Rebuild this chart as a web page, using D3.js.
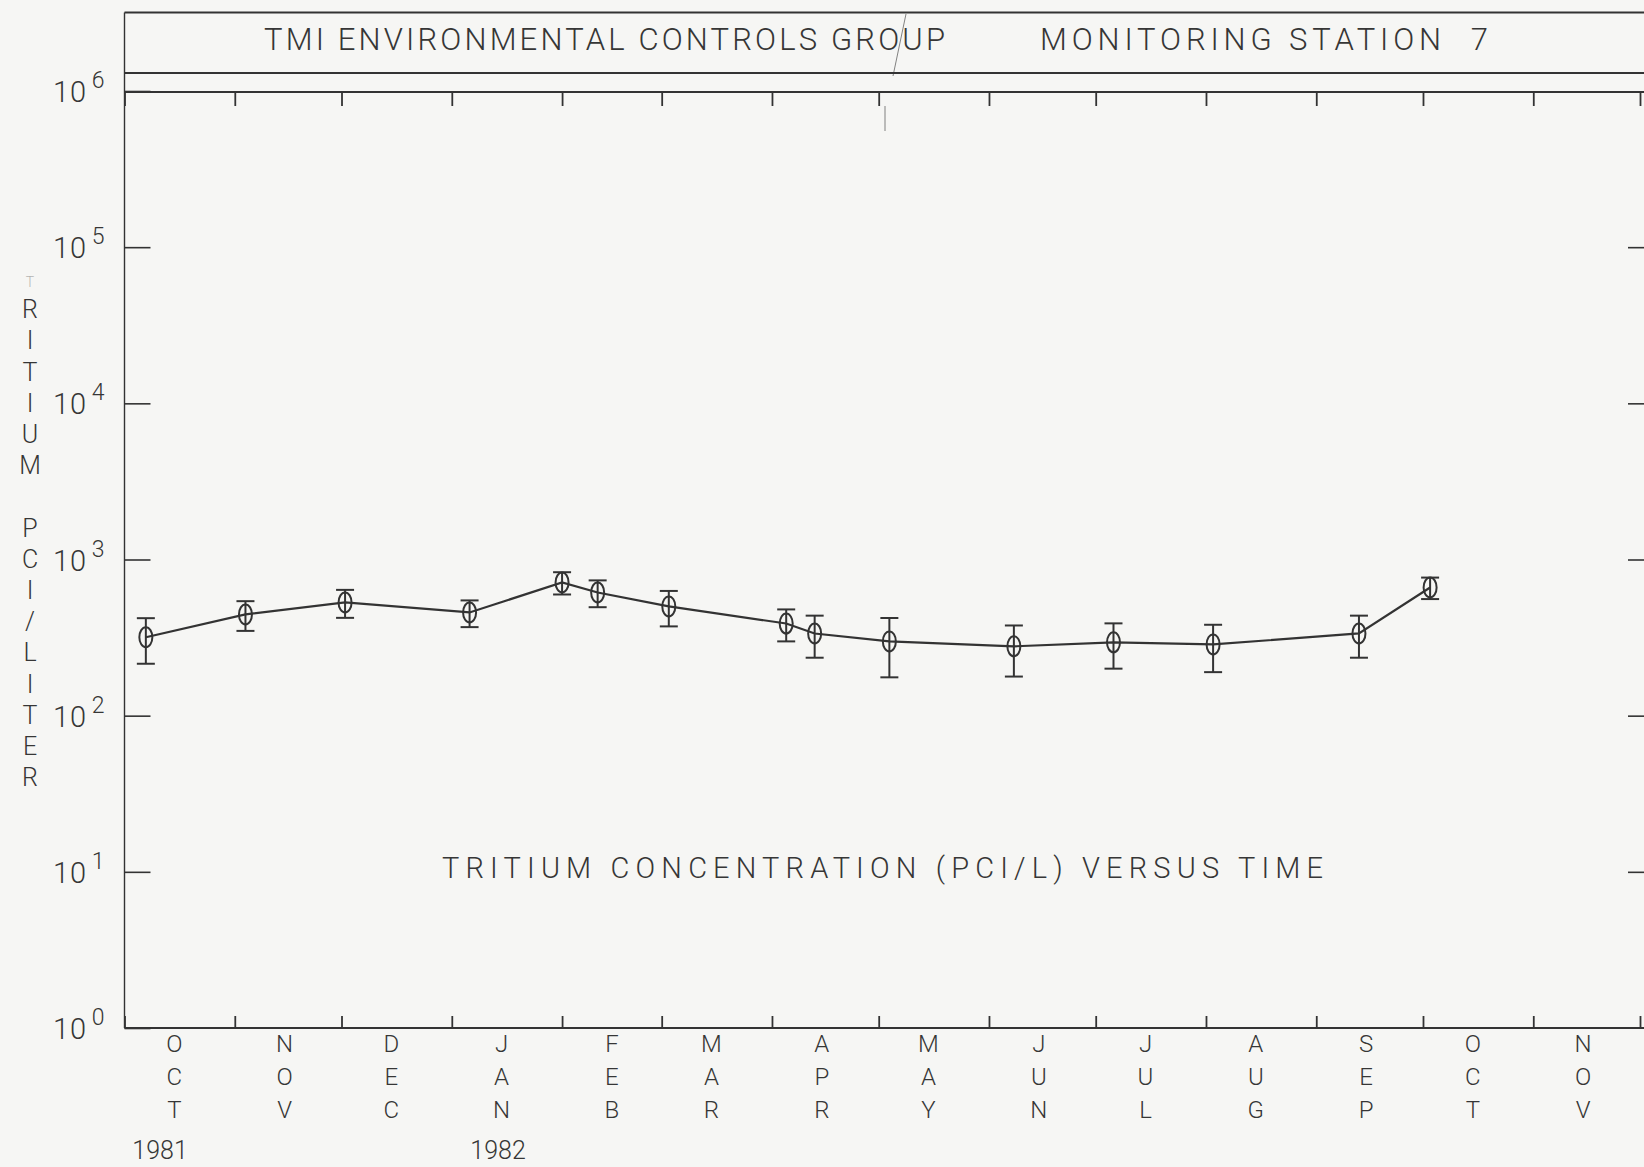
<!DOCTYPE html>
<html lang="en">
<head>
<meta charset="UTF-8">
<title>TMI Monitoring Station 7 - Tritium</title>
<style>
  body { margin: 0; background: #f6f6f4; }
  svg { display: block; }
  text { font-family: Roboto, "DejaVu Sans", sans-serif; font-weight: 300; fill: #363636; }
</style>
</head>
<body>
<script src="https://cdn.jsdelivr.net/npm/d3@7"></script>
<script>
// sample dates, tritium (pCi/L) and 1-sigma error
let sampleDates = ["1981-10-07", "1981-11-04", "1981-12-02", "1982-01-06", "1982-02-01",
                   "1982-02-11", "1982-03-03", "1982-04-05", "1982-04-13", "1982-05-04",
                   "1982-06-08", "1982-07-06", "1982-08-03", "1982-09-13", "1982-10-03"];
let tritium = [318, 445, 531, 458, 713, 615, 501, 389, 336, 299, 278, 295, 286, 336, 662];
let sigma = [103, 96, 108, 89, 116, 120, 128, 90, 101, 123, 100, 95, 96, 101, 104];

let monthLabels = ["OCT", "NOV", "DEC", "JAN", "FEB", "MAR", "APR", "MAY", "JUN", "JUL", "AUG", "SEP", "OCT", "NOV"];
let yearLabels = ["1981", "1982"];
let yearDates = ["1981-10-11", "1982-01-14"];
let decades = [0, 1, 2, 3, 4, 5, 6];
let yTitle = "TRITIUM PCI/LITER";
let title1 = "TMI ENVIRONMENTAL CONTROLS GROUP";
let title2 = "MONITORING STATION  7";
let subTitle = "TRITIUM CONCENTRATION (PCI/L) VERSUS TIME";

let W = 1644, H = 1167;
let mLeft = 124.5, mRight = 1640, mTop = 91, mBottom = 1028;
let ink = "#333";

let parse = d3.utcParse("%Y-%m-%d");
let data = sampleDates.map((d, i) => ({ date: parse(d), v: tritium[i], s: sigma[i] }));

let x = d3.scaleUtc()
    .domain([parse("1981-10-01"), parse("1982-12-01")])
    .range([mLeft, mRight]);
let y = d3.scaleLog().domain([1, 1e6]).range([mBottom, mTop]);

let svg = d3.select("body").append("svg")
    .attr("width", W)
    .attr("height", H);

// frame: title box and plot borders
let frame = svg.append("g").attr("stroke", ink).attr("fill", "none");
frame.append("line").attr("x1", mLeft).attr("x2", W).attr("y1", 12.5).attr("y2", 12.5).attr("stroke-width", 2.2);
frame.append("line").attr("x1", mLeft).attr("x2", W).attr("y1", 73).attr("y2", 73).attr("stroke-width", 2.2);
frame.append("line").attr("x1", mLeft).attr("x2", W).attr("y1", mTop + 1).attr("y2", mTop + 1).attr("stroke-width", 2.2);
frame.append("line").attr("x1", mLeft).attr("x2", W).attr("y1", mBottom).attr("y2", mBottom).attr("stroke-width", 2);
frame.append("line").attr("x1", mLeft).attr("x2", mLeft).attr("y1", 12.5).attr("y2", mBottom).attr("stroke-width", 1.4);

// scan artefacts
frame.append("line").attr("x1", 906).attr("y1", 14).attr("x2", 893).attr("y2", 76).attr("stroke-width", 1).attr("opacity", 0.6);
frame.append("line").attr("x1", 885).attr("y1", 106).attr("x2", 885).attr("y2", 131).attr("stroke-width", 1).attr("opacity", 0.6);

// month ticks top and bottom
let months = d3.utcMonth.every(1);
let topAxis = svg.append("g")
    .attr("transform", "translate(0," + (mTop + 1) + ")")
    .call(d3.axisBottom(x).ticks(months).tickSize(14).tickSizeOuter(0).tickFormat(""));
let botAxis = svg.append("g")
    .attr("transform", "translate(0," + mBottom + ")")
    .call(d3.axisTop(x).ticks(months).tickSize(12).tickSizeOuter(0).tickFormat(""));
[topAxis, botAxis].forEach(a => {
    a.select(".domain").remove();
    a.selectAll(".tick line").attr("stroke", ink).attr("stroke-width", 1.8);
});

// decade ticks left and right
let leftAxis = svg.append("g")
    .attr("transform", "translate(" + mLeft + ",0)")
    .call(d3.axisRight(y).tickValues(decades.map(d => Math.pow(10, d))).tickSize(26).tickFormat(""));
let rightAxis = svg.append("g")
    .attr("transform", "translate(" + W + ",0)")
    .call(d3.axisLeft(y).tickValues(decades.slice(1, 6).map(d => Math.pow(10, d))).tickSize(16).tickFormat(""));
[leftAxis, rightAxis].forEach(a => {
    a.select(".domain").remove();
    a.selectAll(".tick line").attr("stroke", ink).attr("stroke-width", 1.6);
});

// decade labels 10^n
let ylab = svg.append("g").selectAll("text")
    .data(decades)
    .enter().append("text")
    .attr("x", 53)
    .attr("y", d => y(Math.pow(10, d)) + 11)
    .style("font-size", "29px");
ylab.append("tspan").attr("textLength", 33).text("10");
ylab.append("tspan").attr("dx", 5).attr("dy", -14).style("font-size", "23px").text(d => d);

// vertical axis title, stacked letters
svg.append("g").selectAll("text")
    .data(yTitle.split(""))
    .enter().append("text")
    .attr("x", 30)
    .attr("y", (d, i) => 287 + i * 31.2)
    .attr("text-anchor", "middle")
    .attr("opacity", (d, i) => i === 0 ? 0.35 : 1)
    .style("font-size", (d, i) => i === 0 ? "14px" : "25px")
    .text(d => d);

// month labels, stacked letters at mid month
let mlab = svg.append("g").selectAll("g")
    .data(monthLabels)
    .enter().append("g")
    .attr("transform", (d, i) => "translate(" + x(d3.utcDay.offset(d3.utcMonth.offset(parse("1981-10-01"), i), 14)) + ",0)");
mlab.selectAll("text")
    .data(d => d.split(""))
    .enter().append("text")
    .attr("x", 0)
    .attr("y", (d, i) => 1052 + i * 33)
    .attr("text-anchor", "middle")
    .style("font-size", "24px")
    .text(d => d);

svg.append("g").selectAll("text")
    .data(yearLabels)
    .enter().append("text")
    .attr("x", (d, i) => x(parse(yearDates[i])))
    .attr("y", 1159)
    .attr("text-anchor", "middle")
    .style("font-size", "25px")
    .text(d => d);

// titles
svg.append("text").attr("x", 264).attr("y", 50)
    .attr("textLength", 681).attr("lengthAdjust", "spacing")
    .style("font-size", "31px").text(title1);
svg.append("text").attr("x", 1040).attr("y", 50)
    .attr("textLength", 448).attr("lengthAdjust", "spacing")
    .style("font-size", "31px").style("white-space", "pre").text(title2);
svg.append("text").attr("x", 442).attr("y", 878)
    .attr("textLength", 881).attr("lengthAdjust", "spacing")
    .style("font-size", "29px").text(subTitle);

// data line
let line = d3.line().x(d => x(d.date)).y(d => y(d.v));
svg.append("path")
    .datum(data)
    .attr("d", line)
    .attr("fill", "none")
    .attr("stroke", ink)
    .attr("stroke-width", 2.2);

// error bars and markers
let pts = svg.append("g").selectAll("g")
    .data(data)
    .enter().append("g")
    .attr("stroke", ink)
    .attr("fill", "none")
    .attr("stroke-width", 2);
pts.append("line")
    .attr("x1", d => x(d.date)).attr("x2", d => x(d.date))
    .attr("y1", d => y(d.v + d.s)).attr("y2", d => y(d.v - d.s));
pts.append("line")
    .attr("x1", d => x(d.date) - 9).attr("x2", d => x(d.date) + 9)
    .attr("y1", d => y(d.v + d.s)).attr("y2", d => y(d.v + d.s));
pts.append("line")
    .attr("x1", d => x(d.date) - 9).attr("x2", d => x(d.date) + 9)
    .attr("y1", d => y(d.v - d.s)).attr("y2", d => y(d.v - d.s));
pts.append("ellipse")
    .attr("cx", d => x(d.date))
    .attr("cy", d => y(d.v))
    .attr("rx", 6.5)
    .attr("ry", 10);
</script>
</body>
</html>
